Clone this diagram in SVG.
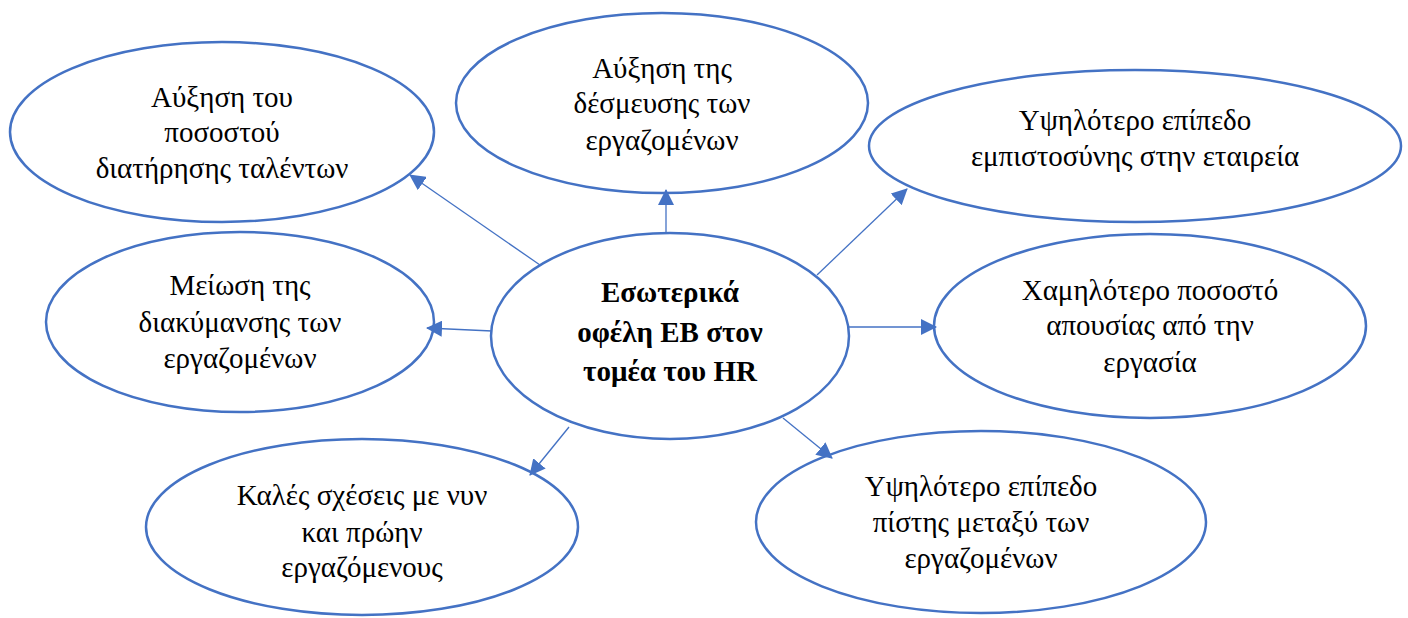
<svg xmlns="http://www.w3.org/2000/svg" width="1408" height="618" viewBox="0 0 1408 618">
<style>
.n ellipse{fill:#fff;stroke:#4472C4;stroke-width:2.5}
.n text{font-family:"Liberation Serif","DejaVu Serif",serif;font-size:29px;fill:#000;text-anchor:middle}
.n text.b{font-weight:bold}
#connectors line{stroke:#4472C4;stroke-width:1.3;marker-end:url(#ah)}
</style>
<defs>
<marker id="ah" markerUnits="userSpaceOnUse" markerWidth="16" markerHeight="16" viewBox="0 0 16 16" refX="15" refY="8" orient="auto">
<path d="M0,0 L16,8 L0,16 Z" fill="#4472C4"/>
</marker>
</defs>
<rect width="1408" height="618" fill="#fff"/>
<g id="n1" class="n"><ellipse cx="222" cy="132" rx="212" ry="90"/><text x="222" y="107">Αύξηση του</text><text x="222" y="142">ποσοστού</text><text x="222" y="178">διατήρησης ταλέντων</text></g>
<g id="n2" class="n"><ellipse cx="662" cy="103" rx="206" ry="90"/><text x="662" y="78">Αύξηση της</text><text x="662" y="113">δέσμευσης των</text><text x="662" y="150">εργαζομένων</text></g>
<g id="n3" class="n"><ellipse cx="1135" cy="146" rx="266" ry="76"/><text x="1135" y="130">Υψηλότερο επίπεδο</text><text x="1135" y="166">εμπιστοσύνης στην εταιρεία</text></g>
<g id="n4" class="n"><ellipse cx="240" cy="322" rx="194" ry="90"/><text x="240" y="295">Μείωση της</text><text x="240" y="332">διακύμανσης των</text><text x="240" y="368">εργαζομένων</text></g>
<g id="n6" class="n"><ellipse cx="1150" cy="326" rx="216" ry="92"/><text x="1150" y="300">Χαμηλότερο ποσοστό</text><text x="1150" y="335">απουσίας από την</text><text x="1150" y="372">εργασία</text></g>
<g id="n7" class="n"><ellipse cx="362" cy="527" rx="216" ry="88"/><text x="362" y="505">Καλές σχέσεις με νυν</text><text x="362" y="542">και πρώην</text><text x="362" y="577">εργαζόμενους</text></g>
<g id="n8" class="n"><ellipse cx="981" cy="522" rx="225" ry="91"/><text x="981" y="496">Υψηλότερο επίπεδο</text><text x="981" y="532">πίστης μεταξύ των</text><text x="981" y="568">εργαζομένων</text></g>
<g id="n5" class="n"><ellipse cx="670" cy="336" rx="179" ry="103"/><text class="b" x="670" y="302">Εσωτερικά</text><text class="b" x="670" y="342">οφέλη ΕΒ στον</text><text class="b" x="670" y="381">τομέα του HR</text></g>
<g id="connectors">
<line x1="540" y1="265" x2="410" y2="175"/>
<line x1="666" y1="233" x2="666" y2="190"/>
<line x1="817" y1="275" x2="907" y2="189"/>
<line x1="849" y1="327" x2="936" y2="327"/>
<line x1="492" y1="331" x2="427" y2="328"/>
<line x1="569" y1="427" x2="530" y2="475"/>
<line x1="783" y1="418" x2="832" y2="458"/>
</g>
</svg>
